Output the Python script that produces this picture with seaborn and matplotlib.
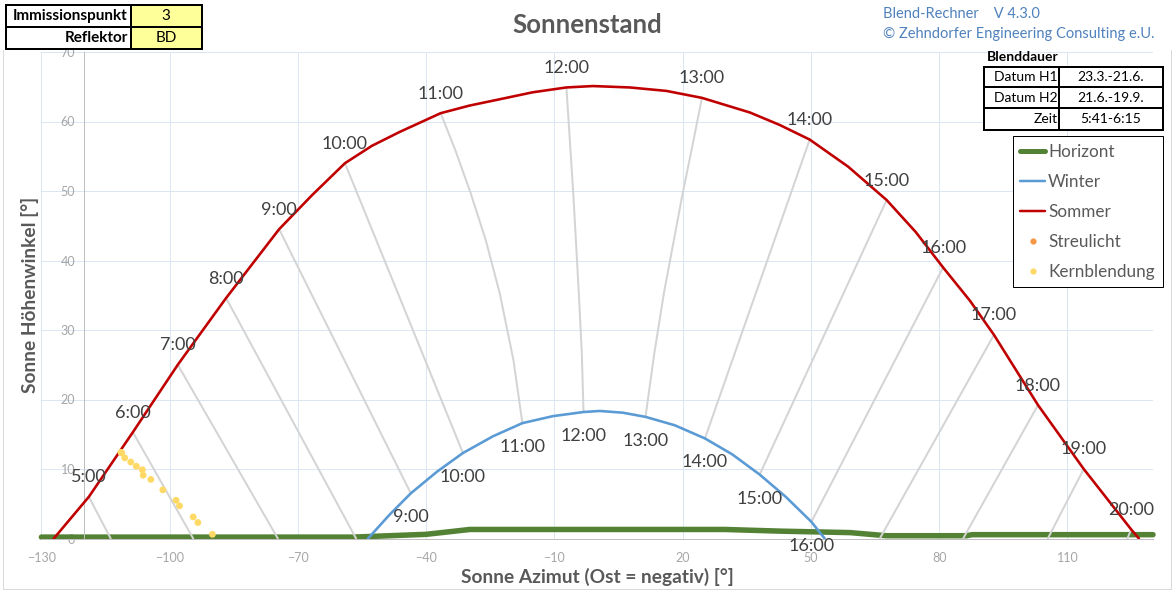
import numpy as np
import pandas as pd
import matplotlib
matplotlib.use("Agg")
import matplotlib.pyplot as plt
import seaborn as sns
from matplotlib.patches import Rectangle
from matplotlib.lines import Line2D
from matplotlib.ticker import MultipleLocator

# ---------------- data ----------------
summer_az = [-127.1, -118.9, -108.6, -98.1, -86.8, -74.4, -66.7, -59.0, -52.7, -46.2,
             -36.6, -29.8, -22.8, -15.1, -7.2, -1.0, 7.6, 16.2, 24.5, 35.7, 42.7,
             49.7, 58.7, 67.7, 74.5, 80.9, 87.2, 92.8, 103.1, 113.8, 124.9, 126.7]
summer_alt = [0.0, 6.0, 15.3, 25.0, 34.6, 44.5, 49.4, 54.0, 56.5, 58.5,
              61.2, 62.3, 63.2, 64.2, 64.9, 65.1, 64.9, 64.4, 63.4, 61.3, 59.5,
              57.4, 53.5, 48.7, 44.1, 39.0, 34.2, 29.3, 19.2, 10.0, 1.3, 0.0]

winter_az = [-53.6, -48.6, -43.6, -37.5, -31.4, -24.4, -17.5, -10.4, -3.2, 0.6, 6.0,
             11.3, 18.1, 25.2, 31.6, 38.0, 44.1, 50.1, 53.2]
winter_alt = [0.0, 3.4, 6.5, 9.6, 12.3, 14.7, 16.6, 17.6, 18.2, 18.35, 18.1,
              17.5, 16.3, 14.4, 12.1, 9.2, 6.0, 2.4, 0.0]

horizon_az = [-130, -57.1, -40, -29.8, 29.8, 43.4, 59.1, 67.6, 86.4, 87.7, 130]
horizon_alt = [0.2, 0.2, 0.6, 1.3, 1.3, 1.05, 0.85, 0.4, 0.4, 0.55, 0.55]

kern_az = [-111.4, -111.2, -110.5, -109.1, -107.8, -106.4, -106.2, -104.4, -101.6,
           -98.5, -97.7, -94.5, -93.4, -90.0]
kern_alt = [12.4, 12.3, 11.6, 11.0, 10.4, 9.9, 9.1, 8.5, 7.0, 5.5, 4.7, 3.1, 2.3, 0.6]
streu_az = []
streu_alt = []

summer_hours = ["5:00", "6:00", "7:00", "8:00", "9:00", "10:00", "11:00", "12:00",
                "13:00", "14:00", "15:00", "16:00", "17:00", "18:00", "19:00", "20:00"]
summer_hour_az = [-118.9, -108.6, -98.1, -86.8, -74.4, -59.0, -36.6, -7.2,
                  24.5, 49.7, 67.7, 80.9, 92.8, 103.1, 113.8, 124.9]
summer_hour_alt = [6.0, 15.3, 25.0, 34.6, 44.5, 54.0, 61.2, 64.9,
                   63.4, 57.4, 48.7, 39.0, 29.3, 19.2, 10.0, 1.3]

winter_hours = ["9:00", "10:00", "11:00", "12:00", "13:00", "14:00", "15:00", "16:00"]
winter_hour_az = [-43.6, -31.4, -17.5, -3.2, 11.3, 25.2, 38.0, 50.1]
winter_hour_alt = [6.5, 12.3, 16.6, 18.2, 17.5, 14.4, 9.2, 2.4]

# hour lines: from the summer point down to the winter point (or the horizon)
hour_line_az = [
    [-118.9, -113.8], [-108.6, -94.5], [-98.1, -74.7], [-86.8, -56.4],
    [-74.4, -43.6], [-59.0, -31.4],
    [-36.6, -33.2, -29.6, -26.1, -22.8, -19.6, -17.5],
    [-7.2, -6.4, -5.6, -4.9, -4.3, -3.6, -3.2],
    [24.5, 22.3, 20.0, 17.8, 15.6, 13.3, 11.3],
    [49.7, 25.2], [67.7, 38.0], [80.9, 50.1],
    [92.8, 66.1], [103.1, 85.6], [113.8, 105.4], [124.9, 124.0]]
hour_line_alt = [
    [6.0, 0.0], [15.3, 0.0], [25.0, 0.0], [34.6, 0.0],
    [44.5, 6.5], [54.0, 12.3],
    [61.2, 55.9, 49.7, 43.0, 35.3, 25.7, 16.6],
    [64.9, 57.3, 49.7, 42.0, 35.3, 26.7, 18.2],
    [63.4, 56.6, 49.7, 42.5, 35.3, 26.4, 17.5],
    [57.4, 14.4], [48.7, 9.2], [39.0, 2.4],
    [29.3, 0.0], [19.2, 0.0], [10.0, 0.0], [1.3, 0.0]]

xticks = [-130, -100, -70, -40, -10, 20, 50, 80, 110]
yticks = [0, 10, 20, 30, 40, 50, 60, 70]

info_left = [("Immissionspunkt", "3"), ("Reflektor", "BD")]
info_right = [("Datum H1", "23.3.-21.6."), ("Datum H2", "21.6.-19.9."), ("Zeit", "5:41-6:15")]
legend_labels = ["Horizont", "Winter", "Sommer", "Streulicht", "Kernblendung"]

# ---------------- styling ----------------
sns.set_theme(style="white")
plt.rcParams['font.family'] = ['Lato', 'DejaVu Sans']

W, H = 1173, 590
PX = 0.72  # points per pixel at dpi 100
fig = plt.figure(figsize=(W / 100, H / 100), dpi=100)
ax = fig.add_axes([41.4 / W, 1 - 538.5 / H, (1153 - 41.4) / W, (538.5 - 52) / H])
ax.set_facecolor("white")

GREEN, BLUE, RED, GRAY = "#548235", "#5b9bd5", "#c00000", "#d4d4d4"
TXT = "#404040"

sns.lineplot(x=horizon_az, y=horizon_alt, ax=ax, color=GREEN, lw=5.5 * PX, sort=False,
             estimator=None, legend=False, zorder=2, clip_on=False)
for la, lh in zip(hour_line_az, hour_line_alt):
    sns.lineplot(x=la, y=lh, ax=ax, color=GRAY, lw=2 * PX, sort=False,
                 estimator=None, legend=False, zorder=3)
sns.lineplot(x=winter_az, y=winter_alt, ax=ax, color=BLUE, lw=2.6 * PX, sort=False,
             estimator=None, legend=False, zorder=4)
sns.lineplot(x=summer_az, y=summer_alt, ax=ax, color=RED, lw=2.6 * PX, sort=False,
             estimator=None, legend=False, zorder=4)
sns.scatterplot(x=kern_az, y=kern_alt, ax=ax, color="#ffd966", s=24, edgecolor="none",
                zorder=5, legend=False)

for lab, a, h in zip(summer_hours, summer_hour_az, summer_hour_alt):
    ax.annotate(lab, (a, h), xytext=(0, 19.5), textcoords="offset pixels",
                ha="center", va="center", fontsize=13, color=TXT, zorder=6,
                annotation_clip=False)
for lab, a, h in zip(winter_hours, winter_hour_az, winter_hour_alt):
    ax.annotate(lab, (a, h), xytext=(0, -24), textcoords="offset pixels",
                ha="center", va="center", fontsize=13, color=TXT, zorder=6,
                annotation_clip=False)

ax.set_xlim(-130, 130)
ax.set_ylim(0, 70)
ax.set_xticks(xticks)
ax.set_yticks(yticks)
ax.xaxis.set_minor_locator(MultipleLocator(5))
ax.yaxis.set_minor_locator(MultipleLocator(2))
ax.grid(True, which="major", color="#dce6f2", lw=1 * PX, zorder=0)
ax.set_axisbelow(True)
for s in ["top", "right"]:
    ax.spines[s].set_visible(False)
ax.spines["left"].set_position(("data", -120))
ax.spines["bottom"].set_position(("data", 0))
for s in ["left", "bottom"]:
    ax.spines[s].set_color("#bfbfbf")
    ax.spines[s].set_linewidth(1 * PX)
ax.tick_params(axis="x", which="major", direction="in", length=5 * PX, width=PX,
               color="#bfbfbf", labelsize=9, labelcolor="#a6a6a6", pad=10)
ax.tick_params(axis="x", which="minor", direction="in", length=4 * PX, width=PX, color="#bfbfbf")
ax.tick_params(axis="y", which="major", direction="out", length=5 * PX, width=PX,
               color="#bfbfbf", labelsize=9, labelcolor="#a6a6a6", pad=3)
ax.tick_params(axis="y", which="minor", direction="out", length=3 * PX, width=PX, color="#bfbfbf")
ax.set_xlabel("")
ax.set_ylabel("")

# ---------------- overlay (pixel coordinates) ----------------
ov = fig.add_axes([0, 0, 1, 1], zorder=10)
ov.set_xlim(0, W)
ov.set_ylim(H, 0)
ov.axis("off")
ov.patch.set_alpha(0)

# chart-area frame (left, bottom, right edges)
ov.plot([2.5, 2.5, W - 2, W - 2], [50, H - 1.5, H - 1.5, 50], color="#d9d9d9",
        lw=PX, zorder=1, solid_joinstyle="miter")

ov.text(587, 25, "Sonnenstand", ha="center", va="center", fontsize=18.5,
        fontweight="bold", color="#595959")
ov.text(597, 577, "Sonne Azimut (Ost = negativ) [°]", ha="center", va="center",
        fontsize=13.8, fontweight="bold", color="#595959")
ov.text(30, 295, "Sonne Höhenwinkel [°]", ha="center", va="center", rotation=90,
        fontsize=13.8, fontweight="bold", color="#595959")

# top-left info table
x0, xm, x1 = 6, 130.7, 201.7
rows = [5, 27.3, 49.3]
for i, (k, v) in enumerate(info_left):
    ya, yb = rows[i], rows[i + 1]
    ov.add_patch(Rectangle((x0, ya), xm - x0, yb - ya, fc="white", ec="black", lw=2 * PX, zorder=3))
    ov.add_patch(Rectangle((xm, ya), x1 - xm, yb - ya, fc="#ffff99", ec="black", lw=2 * PX, zorder=3))
    yc = (ya + yb) / 2
    ov.text(xm - 3, yc, k, ha="right", va="center", fontsize=11, fontweight="bold",
            color="black", zorder=4)
    ov.text((xm + x1) / 2, yc, v, ha="center", va="center", fontsize=11, color="black", zorder=4)

# top-right texts
ov.text(883.3, 14, "Blend-Rechner    V 4.3.0", ha="left", va="center", fontsize=10.5,
        color="#4f81bd")
ov.text(883.3, 34.3, "© Zehndorfer Engineering Consulting e.U.", ha="left", va="center",
        fontsize=10.5, color="#4f81bd")
ov.text(987.3, 57.3, "Blenddauer", ha="left", va="center", fontsize=10, fontweight="bold",
        color="black")
rx0, rxm, rx1 = 984.3, 1059.3, 1162.7
rrows = [66.7, 87.3, 108.3, 130]
for i, (k, v) in enumerate(info_right):
    ya, yb = rrows[i], rrows[i + 1]
    ov.add_patch(Rectangle((rx0, ya), rxm - rx0, yb - ya, fc="white", ec="black", lw=2 * PX, zorder=3))
    ov.add_patch(Rectangle((rxm, ya), rx1 - rxm, yb - ya, fc="white", ec="black", lw=2 * PX, zorder=3))
    yc = (ya + yb) / 2
    ov.text(rxm - 2, yc, k, ha="right", va="center", fontsize=10, color="black", zorder=4)
    ov.text((rxm + rx1) / 2, yc, v, ha="center", va="center", fontsize=10, color="black", zorder=4)

# legend
handles = [
    Line2D([], [], color=GREEN, lw=5 * PX, solid_capstyle="round"),
    Line2D([], [], color=BLUE, lw=2.5 * PX),
    Line2D([], [], color=RED, lw=2.5 * PX),
    Line2D([], [], color="#f79646", marker="o", ls="none", markersize=4.5, mec="none"),
    Line2D([], [], color="#ffd966", marker="o", ls="none", markersize=4.5, mec="none"),
]
leg = ov.legend(handles, legend_labels, loc="upper left", bbox_to_anchor=(1012.7, 136),
                bbox_transform=ov.transData, fontsize=12.3, frameon=True, fancybox=False,
                edgecolor="black", facecolor="white", framealpha=1, handlelength=1.46,
                handletextpad=0.17, labelspacing=0.82, borderpad=0.45, borderaxespad=0)
leg.get_frame().set_linewidth(1 * PX)
for t in leg.get_texts():
    t.set_color("#595959")
leg.set_zorder(5)

fig.savefig("out.png", dpi=100, facecolor="white")
